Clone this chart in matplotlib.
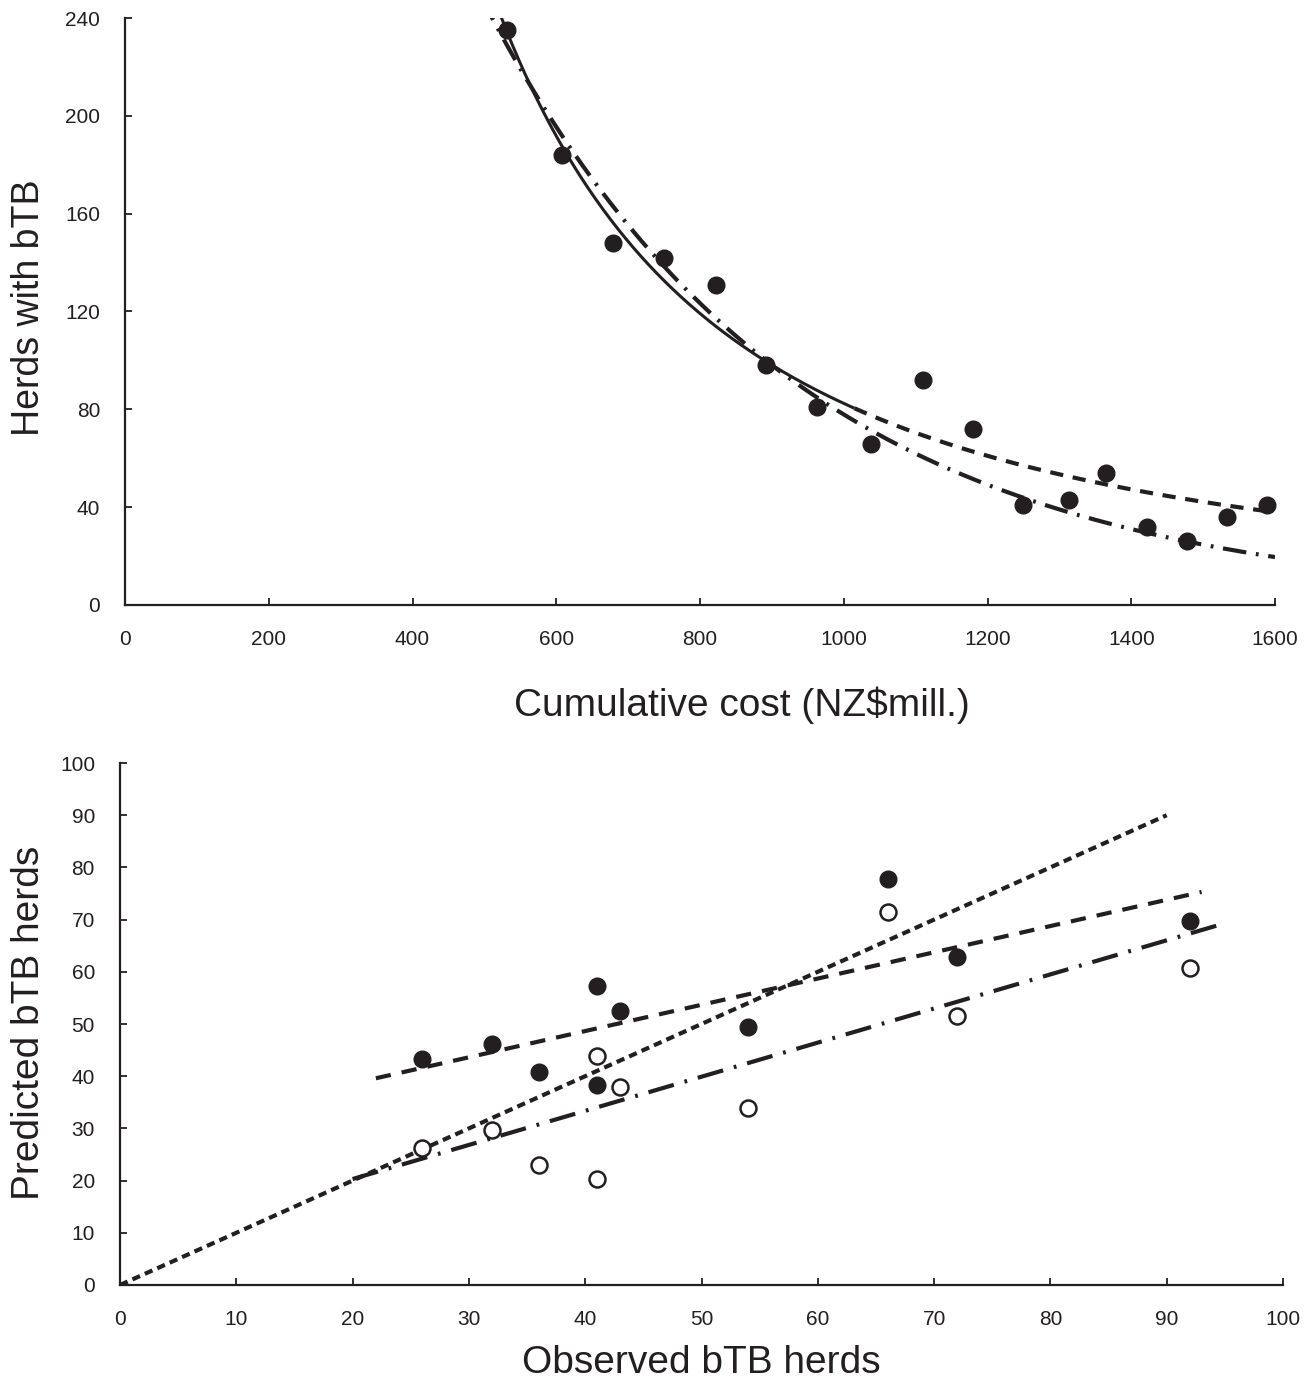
import numpy as np
import matplotlib
matplotlib.use("Agg")
import matplotlib.pyplot as plt

plt.rcParams['font.family'] = ['Liberation Sans', 'DejaVu Sans']
plt.rcParams['lines.scale_dashes'] = False

INK = '#231f20'

# ---- Top panel data ----
cost = [531, 608, 679, 750, 822, 892, 963, 1038, 1110, 1180, 1249, 1313, 1365, 1422, 1478, 1533, 1589]
herds = [235, 184, 148, 142, 131, 98, 81, 66, 92, 72, 41, 43, 54, 32, 26, 36, 41]

# fitted model parameters
pow_A, pow_b = 7.50e6, -1.653          # herds = A * cost^b
pow_solid_range = (500, 1015)
pow_dash_range = (1015, 1600)
exp_A, exp_k = 777.0, 0.0023            # herds = A * exp(-k * cost)
exp_range = (480, 1600)

# ---- Bottom panel data ----
observed = [66, 92, 72, 41, 43, 54, 32, 26, 36, 41]
pred_filled = [77.8, 69.7, 62.8, 38.3, 52.5, 49.4, 46.2, 43.3, 40.8, 57.3]
pred_open = [71.5, 60.7, 51.5, 20.3, 37.9, 33.9, 29.7, 26.2, 23.0, 43.9]

identity_x = [0, 90]
identity_y = [0, 90]
dash_x = [22, 93]
dash_y = [39.6, 75.3]
dashdot_x = [20, 95]
dashdot_y = [20.3, 69.3]

fig = plt.figure(figsize=(13.14, 13.8), dpi=100)

ax1 = fig.add_axes([125/1314, 1-605/1380, 1150/1314, 587/1380])
ax2 = fig.add_axes([120/1314, 1-1285/1380, 1163/1314, 522/1380])

for ax in (ax1, ax2):
    for s in ('top', 'right'):
        ax.spines[s].set_visible(False)
    for s in ('left', 'bottom'):
        ax.spines[s].set_linewidth(1.6)
        ax.spines[s].set_color(INK)
    ax.tick_params(direction='in', length=5, width=1.3, color=INK,
                   labelsize=15, labelcolor=INK)
    ax.tick_params(axis='x', pad=18)
    ax.tick_params(axis='y', pad=18)

# top
xs = np.linspace(*pow_solid_range, 300)
ax1.plot(xs, pow_A * xs ** pow_b, color=INK, lw=2.2, solid_capstyle='butt')
xs = np.linspace(*pow_dash_range, 300)
ax1.plot(xs, pow_A * xs ** pow_b, color=INK, lw=3.0, dashes=(9.5, 7))
xs = np.linspace(*exp_range, 400)
ax1.plot(xs, exp_A * np.exp(-exp_k * xs), color=INK, lw=3.0, dashes=(17, 7, 2, 7))
ax1.plot(cost, herds, 'o', color=INK, ms=12, clip_on=False, zorder=5)

ax1.set_xlim(0, 1600)
ax1.set_ylim(0, 240)
ax1.set_xticks(range(0, 1601, 200))
ax1.set_yticks(range(0, 241, 40))
ax1.set_xlabel('Cumulative cost (NZ$mill.)', fontsize=28, color=INK)
ax1.xaxis.set_label_coords(0.536, -0.138)

# bottom
ax2.plot(identity_x, identity_y, color=INK, lw=3.0, dashes=(6, 3.8))
ax2.plot(dash_x, dash_y, color=INK, lw=3.0, dashes=(11, 8))
ax2.plot(dashdot_x, dashdot_y, color=INK, lw=3.0, dashes=(19, 8, 2, 8))
ax2.plot(observed, pred_filled, 'o', color=INK, ms=12, zorder=5)
ax2.plot(observed, pred_open, 'o', mfc='white', mec=INK, mew=1.8, ms=11.5, zorder=5)

ax2.set_xlim(0, 100)
ax2.set_ylim(0, 100)
ax2.set_xticks(range(0, 101, 10))
ax2.set_yticks(range(0, 101, 10))
ax2.set_xlabel('Observed bTB herds', fontsize=28, color=INK)
ax2.xaxis.set_label_coords(0.5, -0.115)

# y axis titles placed in figure pixels
fig.text(29/1314, 1-308/1380, 'Herds with bTB', rotation=90, ha='center', va='center',
         fontsize=27, color=INK)
fig.text(29/1314, 1-1023/1380, 'Predicted bTB herds', rotation=90, ha='center', va='center',
         fontsize=28, color=INK)

fig.savefig('out.png', dpi=100)
